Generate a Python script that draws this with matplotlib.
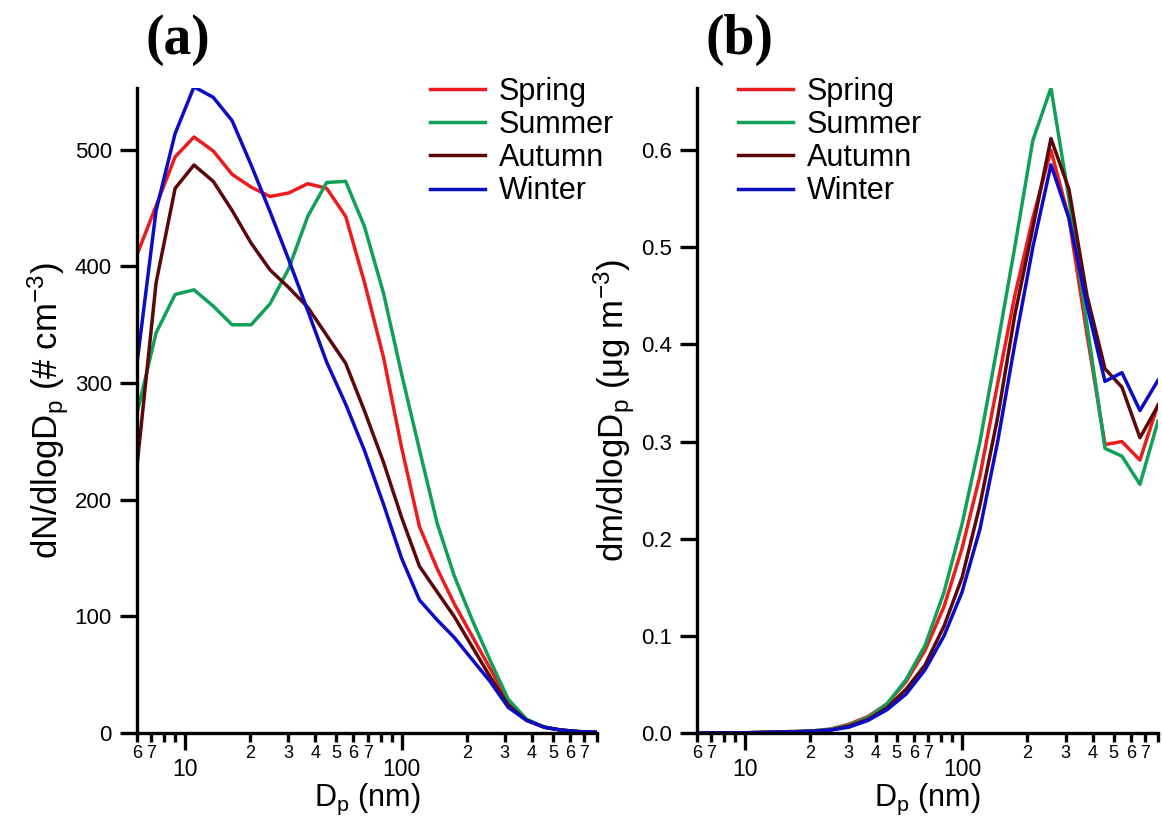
# -*- coding: utf-8 -*-
"""
Seasonal mean number (a) and mass (b) size distributions.
"""

import numpy as np
import matplotlib
matplotlib.use("Agg")
import matplotlib.pyplot as plt
from matplotlib.ticker import FixedLocator, FixedFormatter

plt.rcParams['font.family'] = ['Liberation Sans', 'DejaVu Sans']
plt.rcParams['mathtext.fontset'] = 'custom'
plt.rcParams['mathtext.rm'] = 'Liberation Sans'
plt.rcParams['mathtext.it'] = 'Liberation Sans:italic'

# particle diameter (nm), same bins for both panels
dp = [6.0, 7.35, 9.0, 11.0, 13.5, 16.5, 20.2, 24.7, 30.1, 36.9, 45.1, 55.2, 67.5,
      82.6, 100, 121, 146, 175, 212, 257, 311, 377, 456, 546, 661, 800]

seasons = ['Spring', 'Summer', 'Autumn', 'Winter']
colors = ['#ec1c1c', '#12a058', '#5c0808', '#0c0cc4']

# (a) dN/dlogDp  (# cm-3)
dn_spring = [410, 452, 494, 511, 499, 479, 468, 460, 463, 471, 467, 443, 386,
             322, 245, 177, 141, 111, 83, 55, 27, 11, 5, 2.5, 1.2, 0.5]
dn_summer = [274, 343, 376, 380, 366, 350, 350, 368, 398, 443, 472, 473, 434,
             377, 308, 243, 180, 135, 97, 62, 29, 12, 5, 2.5, 1.2, 0.5]
dn_autumn = [229, 386, 467, 487, 473, 448, 420, 397, 382, 365, 341, 317, 276,
             232, 185, 143, 121, 100, 74, 48, 24, 11, 5, 2.5, 1.2, 0.5]
dn_winter = [317, 448, 514, 554, 545, 525, 487, 447, 406, 362, 318, 282, 242,
             196, 150, 114, 97, 82, 63, 44, 22, 11, 5, 2.5, 1.2, 0.8]

# (b) dm/dlogDp  (ug m-3)
dm_spring = [0, 0, 0, 0.0005, 0.001, 0.0015, 0.002, 0.004, 0.009, 0.017, 0.03, 0.053,
             0.085, 0.13, 0.19, 0.265, 0.36, 0.45, 0.53, 0.60, 0.53, 0.41, 0.297,
             0.300, 0.281, 0.338]
dm_summer = [0, 0, 0, 0.0005, 0.001, 0.0015, 0.002, 0.004, 0.008, 0.016, 0.03, 0.055,
             0.09, 0.145, 0.215, 0.30, 0.40, 0.50, 0.61, 0.664, 0.55, 0.42, 0.293,
             0.285, 0.256, 0.321]
dm_autumn = [0, 0, 0, 0.0004, 0.0008, 0.0012, 0.0018, 0.003, 0.007, 0.014, 0.026, 0.045,
             0.07, 0.11, 0.16, 0.235, 0.325, 0.43, 0.52, 0.612, 0.56, 0.45, 0.375,
             0.356, 0.304, 0.337]
dm_winter = [0, 0, 0, 0.0004, 0.0008, 0.0012, 0.0018, 0.003, 0.006, 0.013, 0.024, 0.04,
             0.065, 0.10, 0.145, 0.21, 0.30, 0.40, 0.50, 0.585, 0.53, 0.44, 0.362,
             0.371, 0.332, 0.363]

minor_pos = [6, 7, 8, 9, 20, 30, 40, 50, 60, 70, 80, 90,
             200, 300, 400, 500, 600, 700, 800]
minor_lab = ['6', '7', '', '', '2', '3', '4', '5', '6', '7', '', '',
             '2', '3', '4', '5', '6', '7', '']


def style_axes(ax, ylim, yticks, ylabels):
    ax.set_xscale('log')
    ax.set_xlim(6, 800)
    ax.set_ylim(*ylim)
    for s in ['top', 'right']:
        ax.spines[s].set_visible(False)
    for s in ['left', 'bottom']:
        ax.spines[s].set_linewidth(2.4)
    ax.xaxis.set_major_locator(FixedLocator([10, 100]))
    ax.xaxis.set_major_formatter(FixedFormatter(['10', '100']))
    ax.xaxis.set_minor_locator(FixedLocator(minor_pos))
    ax.xaxis.set_minor_formatter(FixedFormatter(minor_lab))
    ax.tick_params(axis='x', which='major', length=12, width=2.4, pad=6,
                   labelsize=16.5)
    ax.tick_params(axis='x', which='minor', length=6.5, width=2.4, pad=2,
                   labelsize=13)
    ax.set_yticks(yticks)
    ax.set_yticklabels(ylabels)
    ax.tick_params(axis='y', which='major', length=12, width=2.4, pad=6,
                   labelsize=16)
    ax.tick_params(axis='y', which='minor', left=False)
    ax.set_xlabel('D$_\\mathregular{p}$ (nm)', fontsize=22, labelpad=0.5)


fig = plt.figure(figsize=(11.62, 8.18), dpi=100)
ax1 = fig.add_axes([0.1179, 0.1039, 0.3959, 0.7885])
ax2 = fig.add_axes([0.5998, 0.1039, 0.3967, 0.7885])

for vals, name, c in zip([dn_spring, dn_summer, dn_autumn, dn_winter], seasons, colors):
    ax1.plot(dp, vals, color=c, lw=2.5, label=name)
for vals, name, c in zip([dm_spring, dm_summer, dm_autumn, dm_winter], seasons, colors):
    ax2.plot(dp, vals, color=c, lw=2.5, label=name)

style_axes(ax1, (0, 553), [0, 100, 200, 300, 400, 500],
           ['0', '100', '200', '300', '400', '500'])
style_axes(ax2, (0, 0.664), [0, 0.1, 0.2, 0.3, 0.4, 0.5, 0.6],
           ['0.0', '0.1', '0.2', '0.3', '0.4', '0.5', '0.6'])

ax1.set_ylabel('dN/dlogD$_\\mathregular{p}$ (# cm$^\\mathregular{-3}$)', fontsize=25, labelpad=3)
ax2.set_ylabel('dm/dlogD$_\\mathregular{p}$ (\u03bcg m$^\\mathregular{-3}$)', fontsize=25, labelpad=3)

for ax, xa in [(ax1, 0.637), (ax2, 0.089)]:
    ax.legend(loc='upper left', bbox_to_anchor=(xa, 1.017), frameon=False,
              fontsize=22, handlelength=1.8, handletextpad=0.45,
              labelspacing=0.1, borderpad=0, borderaxespad=0)

fig.text(178 / 1162, 1 - 40 / 818, '(a)', fontsize=40, fontweight='bold',
         family='Liberation Serif', ha='center', va='center')
fig.text(740 / 1162, 1 - 40 / 818, '(b)', fontsize=40, fontweight='bold',
         family='Liberation Serif', ha='center', va='center')

fig.savefig('out.png', dpi=100)
